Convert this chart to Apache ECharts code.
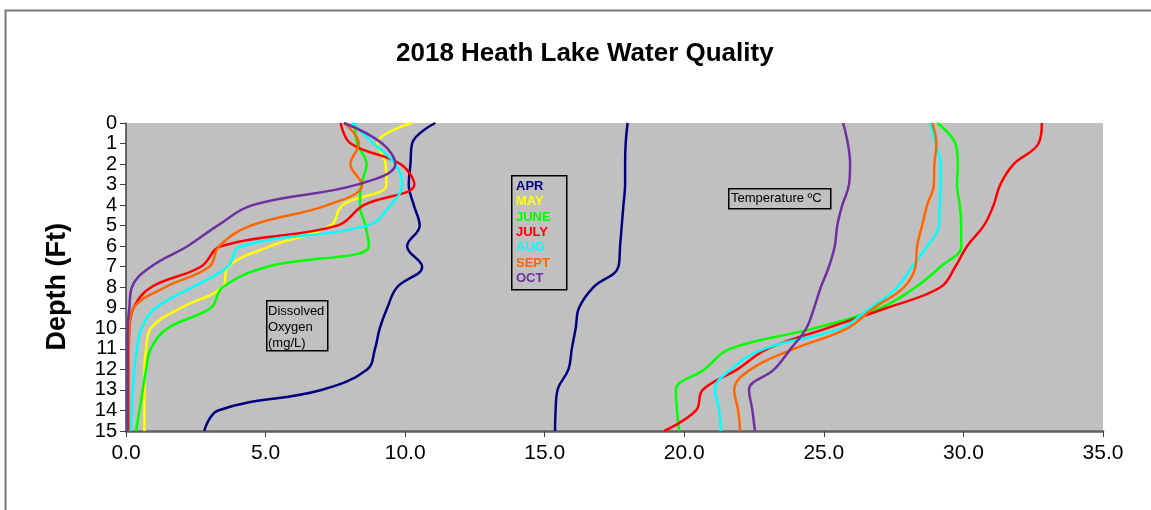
<!DOCTYPE html>
<html>
<head>
<meta charset="utf-8">
<title>2018 Heath Lake Water Quality</title>
<script src="https://cdn.jsdelivr.net/npm/echarts@6/dist/echarts.min.js"></script>
<style>
  html, body { margin: 0; padding: 0; background: #fff; }
  #main { width: 1151px; height: 510px; }
</style>
</head>
<body>
<div id="main"></div>
<script>
// depth of each reading, feet
const depths = [0, 1, 2, 3, 4, 5, 6, 7, 8, 9, 10, 11, 12, 13, 14, 15]
const months = ['APR', 'MAY', 'JUNE', 'JULY', 'AUG', 'SEPT', 'OCT']
const monthColors = ['#000080', '#FFFF00', '#00FF00', '#FF0000', '#00FFFF', '#FF6600', '#7030A0']

// dissolved oxygen, mg/L
const doApr = [11.08, 10.25, 10.19, 10.13, 10.31, 10.52, 10.07, 10.61, 9.71, 9.36, 9.09, 8.92, 8.64, 7.0, 3.3, 2.8]
const doMay = [10.25, 9.0, 9.3, 9.33, 7.75, 7.33, 5.18, 3.66, 3.46, 1.97, 0.89, 0.72, 0.66, 0.66, 0.66, 0.66]
const doJune = [8.2, 8.28, 8.62, 8.43, 8.38, 8.58, 8.7, 5.07, 3.46, 3.04, 1.49, 0.89, 0.72, 0.6, 0.48, 0.36]
const doJuly = [7.69, 8.05, 9.83, 10.33, 8.52, 7.57, 3.4, 2.68, 0.9, 0.27, 0.12, 0.1, 0.1, 0.1, 0.1, 0.1]
const doAug = [8.1, 8.88, 9.65, 9.89, 9.48, 8.64, 4.11, 3.64, 2.38, 1.07, 0.56, 0.39, 0.3, 0.24, 0.2, 0.18]
const doSept = [7.81, 8.34, 8.04, 8.46, 7.21, 4.47, 3.34, 2.98, 1.4, 0.27, 0.12, 0.1, 0.1, 0.1, 0.1, 0.1]
const doOct = [7.81, 9.18, 9.65, 8.28, 4.53, 3.28, 2.2, 0.89, 0.21, 0.12, 0.06, 0.06, 0.06, 0.06, 0.06, 0.06]

// temperature, deg C (no May profile)
const tApr = [17.97, 17.9, 17.88, 17.88, 17.82, 17.76, 17.7, 17.64, 16.74, 16.23, 16.11, 15.97, 15.85, 15.46, 15.39, 15.37]
const tJune = [29.06, 29.71, 29.8, 29.77, 29.87, 29.92, 29.92, 29.18, 28.28, 27.03, 24.65, 21.63, 20.72, 19.7, 19.74, 19.82]
const tJuly = [32.81, 32.69, 31.8, 31.32, 31.08, 30.73, 30.13, 29.71, 29.18, 27.27, 25.1, 22.98, 21.9, 20.66, 20.42, 19.28]
const tAug = [28.8, 29.0, 29.18, 29.18, 29.15, 29.12, 28.7, 28.16, 27.63, 26.67, 25.6, 22.86, 21.67, 21.1, 21.25, 21.31]
const tSept = [28.88, 29.03, 28.96, 28.94, 28.7, 28.52, 28.34, 28.28, 27.87, 26.79, 25.84, 23.93, 22.38, 21.79, 21.93, 22.0]
const tOct = [25.69, 25.86, 25.94, 25.9, 25.66, 25.48, 25.39, 25.18, 24.89, 24.65, 24.37, 23.81, 23.22, 22.32, 22.44, 22.53]

const profiles = [
  { name: 'APR', values: doApr },
  { name: 'MAY', values: doMay },
  { name: 'JUNE', values: doJune },
  { name: 'JULY', values: doJuly },
  { name: 'AUG', values: doAug },
  { name: 'SEPT', values: doSept },
  { name: 'OCT', values: doOct },
  { name: 'APR', values: tApr },
  { name: 'JUNE', values: tJune },
  { name: 'JULY', values: tJuly },
  { name: 'AUG', values: tAug },
  { name: 'SEPT', values: tSept },
  { name: 'OCT', values: tOct }
]

const FONT = '"Liberation Sans", Arial, sans-serif'

function makeSeries(p) {
  return {
    name: p.name,
    type: 'line',
    smooth: 0.4,
    showSymbol: false,
    lineStyle: { width: 2.5, color: monthColors[months.indexOf(p.name)] },
    data: p.values.map((v, i) => [v, depths[i]])
  }
}

// legend box entries (coloured text only)
const legendTexts = months.map((m, i) => ({
  type: 'text',
  left: 516,
  top: 180 + i * 15.3,
  z: 11,
  style: { text: m, font: 'bold 13px ' + FONT, fill: monthColors[i] }
}))

const chart = echarts.init(document.getElementById('main'))
const option = {
  backgroundColor: '#fff',
  animation: false,
  title: {
    text: '2018 Heath Lake Water Quality',
    left: 391,
    top: 36,
    textStyle: { fontFamily: FONT, fontSize: 26, fontWeight: 'bold', color: '#000' }
  },
  grid: {
    left: 126,
    right: 48,
    top: 123,
    bottom: 79,
    show: true,
    backgroundColor: '#C0C0C0',
    borderWidth: 0
  },
  xAxis: {
    type: 'value',
    position: 'bottom',
    min: 0,
    max: 35,
    interval: 5,
    axisLine: { show: true, onZero: false, lineStyle: { color: '#606060', width: 2.5 } },
    axisTick: { show: true, length: 6, lineStyle: { color: '#404040', width: 1 } },
    axisLabel: {
      margin: 12,
      fontFamily: FONT,
      fontSize: 21,
      color: '#000',
      formatter: v => v.toFixed(1)
    },
    splitLine: { show: false }
  },
  yAxis: {
    type: 'value',
    inverse: true,
    min: 0,
    max: 15,
    interval: 1,
    axisLine: { show: true, onZero: false, lineStyle: { color: '#404040', width: 1.5 } },
    axisTick: { show: true, length: 6, lineStyle: { color: '#404040', width: 1 } },
    axisLabel: {
      margin: 9,
      fontFamily: FONT,
      fontSize: 20,
      lineHeight: 16,
      color: '#000',
      showMinLabel: true,
      showMaxLabel: true,
      hideOverlap: false
    },
    splitLine: { show: false }
  },
  series: profiles.map(makeSeries),
  graphic: [
    // outer frame (top and left edges visible)
    { type: 'rect', left: 3, top: 8, shape: { width: 1200, height: 600 }, style: { fill: 'none', stroke: '#777', lineWidth: 2 }, silent: true },
    {
      type: 'text',
      left: 44,
      top: 223,
      rotation: Math.PI / 2,
      style: { text: 'Depth (Ft)', font: 'bold 27px ' + FONT, fill: '#000' }
    },
    { type: 'rect', left: 266, top: 300, shape: { width: 61, height: 50 }, style: { fill: '#C0C0C0', stroke: '#000', lineWidth: 1.5 }, z: 10 },
    {
      type: 'text',
      left: 268,
      top: 303,
      z: 11,
      style: { text: 'Dissolved\nOxygen\n(mg/L)', font: '13px ' + FONT, lineHeight: 16, fill: '#000' }
    },
    { type: 'rect', left: 511, top: 175, shape: { width: 55, height: 114 }, style: { fill: '#C0C0C0', stroke: '#000', lineWidth: 1.5 }, z: 10 },
    ...legendTexts,
    { type: 'rect', left: 728, top: 188, shape: { width: 102, height: 20 }, style: { fill: '#C0C0C0', stroke: '#000', lineWidth: 1.5 }, z: 10 },
    {
      type: 'text',
      left: 731,
      top: 192,
      z: 11,
      style: { text: 'Temperature ºC', font: '13px ' + FONT, fill: '#000' }
    }
  ]
}
chart.setOption(option)
</script>
</body>
</html>
